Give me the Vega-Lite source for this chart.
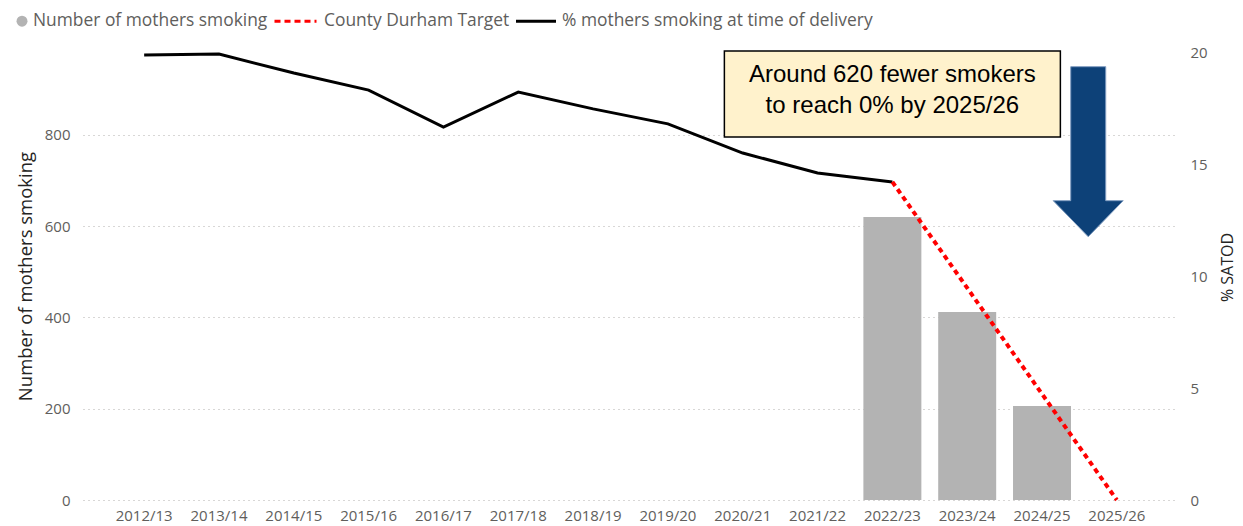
{
  "$schema": "https://vega.github.io/schema/vega-lite/v6.json",
  "width": 1095,
  "height": 448,
  "autosize": "none",
  "padding": {"left": 83, "top": 52, "right": 65, "bottom": 26},
  "background": "white",
  "config": {
    "view": {"stroke": null},
    "font": "Open Sans",
    "axis": {"labelFont": "Open Sans", "titleFont": "Open Sans", "titleFontWeight": "normal"}
  },
  "datasets": {
    "counts": [
      {"year": "2022/23", "count": 620, "series": "Number of mothers smoking"},
      {"year": "2023/24", "count": 412, "series": "Number of mothers smoking"},
      {"year": "2024/25", "count": 206, "series": "Number of mothers smoking"}
    ],
    "pct": [
      {"year": "2012/13", "pct": 19.87, "series": "% mothers smoking at time of delivery"},
      {"year": "2013/14", "pct": 19.91, "series": "% mothers smoking at time of delivery"},
      {"year": "2014/15", "pct": 19.06, "series": "% mothers smoking at time of delivery"},
      {"year": "2015/16", "pct": 18.3, "series": "% mothers smoking at time of delivery"},
      {"year": "2016/17", "pct": 16.65, "series": "% mothers smoking at time of delivery"},
      {"year": "2017/18", "pct": 18.21, "series": "% mothers smoking at time of delivery"},
      {"year": "2018/19", "pct": 17.46, "series": "% mothers smoking at time of delivery"},
      {"year": "2019/20", "pct": 16.79, "series": "% mothers smoking at time of delivery"},
      {"year": "2020/21", "pct": 15.49, "series": "% mothers smoking at time of delivery"},
      {"year": "2021/22", "pct": 14.6, "series": "% mothers smoking at time of delivery"},
      {"year": "2022/23", "pct": 14.2, "series": "% mothers smoking at time of delivery"}
    ],
    "target": [
      {"year": "2022/23", "pct": 14.2, "series": "County Durham Target"},
      {"year": "2025/26", "pct": 0, "series": "County Durham Target"}
    ],
    "note": [
      {"label": "Around 620 fewer smokers\nto reach 0% by 2025/26"}
    ]
  },
  "layer": [
    {
      "data": {"name": "counts"},
      "mark": {"type": "bar", "color": "#b3b3b3"},
      "encoding": {
        "x": {
          "field": "year",
          "type": "nominal",
          "scale": {
            "domain": ["2012/13", "2013/14", "2014/15", "2015/16", "2016/17", "2017/18", "2018/19", "2019/20", "2020/21", "2021/22", "2022/23", "2023/24", "2024/25", "2025/26"],
            "paddingInner": 0.225,
            "paddingOuter": 0.43
          },
          "axis": {
            "title": null,
            "labelAngle": 0,
            "domain": false,
            "ticks": false,
            "grid": false,
            "labelPadding": 8,
            "labelFontSize": 15,
            "labelColor": "#605e5c"
          }
        },
        "y": {
          "field": "count",
          "type": "quantitative",
          "scale": {"domain": [0, 981.9], "nice": false},
          "axis": {
            "orient": "left",
            "values": [0, 200, 400, 600, 800],
            "title": "Number of mothers smoking",
            "titleFontSize": 18.5,
            "titleColor": "#252423",
            "titlePadding": 9,
            "labelFontSize": 15,
            "labelColor": "#605e5c",
            "labelPadding": 13,
            "domain": false,
            "ticks": false,
            "grid": true,
            "gridDash": [1, 4],
            "gridColor": "#b0aeac",
            "gridWidth": 1
          }
        },
        "color": {
          "field": "series",
          "type": "nominal",
          "scale": {
            "domain": ["Number of mothers smoking", "County Durham Target", "% mothers smoking at time of delivery"],
            "range": ["#b3b3b3", "#ff0000", "#000000"]
          },
          "legend": {
            "title": null,
            "orient": "none",
            "legendX": -97,
            "legendY": -40,
            "direction": "horizontal",
            "padding": 0,
            "symbolSize": 1764,
            "symbolStrokeWidth": 3,
            "labelFont": "Open Sans",
            "labelFontSize": 17.4,
            "labelColor": "#605e5c",
            "labelLimit": 0,
            "labelOffset": 31,
            "columnPadding": 0,
            "encode": {
              "symbols": {
                "update": {
                  "shape": {"signal": "datum.value === 'Number of mothers smoking' ? 'circle' : 'stroke'"},
                  "size": {"signal": "datum.value === 'Number of mothers smoking' ? 120 : (datum.value === 'County Durham Target' ? 1764 : 1600)"},
                  "x": {"signal": "datum.value === 'Number of mothers smoking' ? 36 : (datum.value === 'County Durham Target' ? 18.5 : 6)"},
                  "fill": {"signal": "datum.value === 'Number of mothers smoking' ? '#b3b3b3' : 'transparent'"},
                  "stroke": {"signal": "datum.value === 'Number of mothers smoking' ? 'transparent' : (datum.value === 'County Durham Target' ? '#ff0000' : '#000000')"},
                  "strokeWidth": {"signal": "datum.value === 'Number of mothers smoking' ? 0 : 3"},
                  "strokeDash": {"signal": "datum.value === 'County Durham Target' ? [6, 4] : [1, 0]"},
                  "opacity": {"value": 1}
                }
              },
              "labels": {
                "update": {
                  "x": {"signal": "datum.value === '% mothers smoking at time of delivery' ? 32 : 47"}
                }
              }
            }
          }
        }
      }
    },
    {
      "layer": [
        {
          "data": {"name": "pct"},
          "mark": {"type": "line", "strokeWidth": 3},
          "encoding": {
            "x": {"field": "year", "type": "nominal"},
            "y": {
              "field": "pct",
              "type": "quantitative",
              "scale": {"domain": [0, 20], "nice": false},
              "axis": {
                "orient": "right",
                "values": [0, 5, 10, 15, 20],
                "title": "% SATOD",
                "titleAngle": 270,
                "titleFontSize": 16,
                "titleColor": "#252423",
                "titlePadding": 28,
                "titleY": 215,
                "labelFontSize": 15,
                "labelColor": "#605e5c",
                "labelPadding": 12,
                "domain": false,
                "ticks": false,
                "grid": false
              }
            },
            "color": {"field": "series", "type": "nominal"}
          }
        },
        {
          "data": {"name": "target"},
          "mark": {"type": "line", "strokeWidth": 4, "strokeDash": [5, 4]},
          "encoding": {
            "x": {"field": "year", "type": "nominal"},
            "y": {"field": "pct", "type": "quantitative"},
            "color": {"field": "series", "type": "nominal"}
          }
        },
        {
          "data": {"name": "note"},
          "mark": {"type": "bar", "width": 336, "fill": "#fff2cc", "stroke": "#000000", "strokeWidth": 1.5},
          "encoding": {
            "x": {"datum": "2022/23", "type": "nominal"},
            "y": {"datum": 20.04, "type": "quantitative"},
            "y2": {"datum": 16.21}
          }
        },
        {
          "data": {"name": "note"},
          "mark": {"type": "text", "font": "Liberation Sans", "fontSize": 24, "color": "#000000", "align": "center", "baseline": "middle", "lineBreak": "\n", "lineHeight": 31},
          "encoding": {
            "x": {"datum": "2022/23", "type": "nominal"},
            "y": {"datum": 18.97, "type": "quantitative"},
            "text": {"field": "label", "type": "nominal"}
          }
        },
        {
          "data": {"name": "note"},
          "mark": {
            "type": "point",
            "shape": "M-0.5,-2.437L0.5,-2.437L0.5,1.391L1,1.391L0,2.42L-1,1.391L-0.5,1.391Z",
            "size": 4900,
            "filled": true,
            "fill": "#0d4178",
            "stroke": "#7f9cc0",
            "strokeWidth": 1,
            "opacity": 1,
            "xOffset": -28.6
          },
          "encoding": {
            "x": {"datum": "2025/26", "type": "nominal"},
            "y": {"datum": 15.536, "type": "quantitative"}
          }
        }
      ]
    }
  ],
  "resolve": {"scale": {"y": "independent"}}
}
